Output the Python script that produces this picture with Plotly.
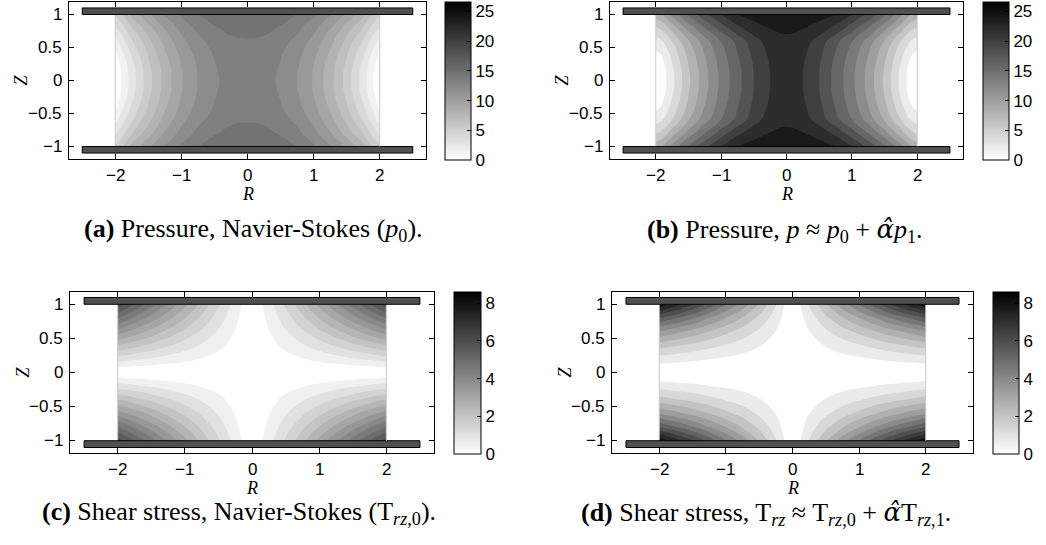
import plotly.graph_objects as go

# ---------------- data (quarter domain r>=0, z>=0; mirrored for display) ----
R_QUAD = [0.0, 0.25, 0.5, 0.75, 1.0, 1.25, 1.5, 1.75, 1.9, 2.0]
Z_QUAD = [0.0, 0.2, 0.4, 0.6, 0.8, 1.0]

# (a) pressure, Navier-Stokes p0  (rows: z, cols: r)
P_NS = [
    [14.0, 13.8, 13.1, 12.0, 10.5, 8.5, 6.1, 3.3, 1.4, 0.0],
    [14.1, 13.9, 13.2, 12.1, 10.6, 8.6, 6.3, 3.5, 1.65, 0.25],
    [14.2, 14.0, 13.4, 12.4, 11.0, 9.1, 6.8, 4.2, 2.3, 1.0],
    [14.5, 14.4, 13.9, 12.9, 11.6, 9.8, 7.6, 5.2, 3.4, 2.2],
    [15.2, 15.0, 14.5, 13.7, 12.4, 10.8, 8.8, 6.6, 4.8, 3.8],
    [16.0, 15.8, 15.3, 14.6, 13.5, 12.1, 10.4, 8.4, 6.4, 5.5],
]
# (b) pressure p ~ p0 + alpha p1
P_FULL = [
    [22.6, 22.0, 20.0, 17.3, 14.5, 11.3, 7.6, 3.4, 1.0, 0.0],
    [22.7, 22.1, 20.1, 17.4, 14.7, 11.5, 7.9, 3.7, 1.3, 0.4],
    [23.0, 22.4, 20.5, 17.9, 15.2, 12.1, 8.6, 4.6, 2.3, 1.4],
    [23.6, 23.0, 21.2, 18.7, 16.1, 13.2, 9.9, 6.1, 4.0, 3.2],
    [24.4, 24.1, 23.2, 21.5, 19.0, 16.0, 12.8, 9.0, 6.6, 5.8],
    [25.4, 25.2, 24.8, 24.0, 22.0, 19.5, 16.5, 12.5, 10.0, 9.0],
]
# (c) shear stress, Navier-Stokes |T_rz,0|
T_NS = [
    [0.0, 0.0, 0.0, 0.0, 0.0, 0.0, 0.0, 0.0, 0.0, 0.0],
    [0.0, 0.16, 0.32, 0.47, 0.63, 0.79, 0.95, 1.10, 1.20, 1.26],
    [0.0, 0.32, 0.63, 0.95, 1.26, 1.58, 1.89, 2.21, 2.39, 2.52],
    [0.0, 0.47, 0.95, 1.42, 1.89, 2.36, 2.84, 3.31, 3.59, 3.78],
    [0.0, 0.63, 1.26, 1.89, 2.52, 3.15, 3.78, 4.41, 4.79, 5.04],
    [0.0, 0.79, 1.58, 2.36, 3.15, 3.94, 4.73, 5.51, 5.99, 6.30],
]
# (d) shear stress |T_rz| ~ T_rz,0 + alpha T_rz,1
T_FULL = [
    [0.0, 0.0, 0.0, 0.0, 0.0, 0.0, 0.0, 0.0, 0.0, 0.0],
    [0.0, 0.17, 0.31, 0.44, 0.56, 0.68, 0.80, 0.91, 0.97, 1.02],
    [0.0, 0.38, 0.70, 1.00, 1.27, 1.54, 1.81, 2.05, 2.19, 2.30],
    [0.0, 0.64, 1.20, 1.70, 2.16, 2.62, 3.08, 3.50, 3.73, 3.91],
    [0.0, 0.98, 1.82, 2.59, 3.29, 3.99, 4.69, 5.32, 5.67, 5.95],
    [0.0, 1.40, 2.60, 3.70, 4.70, 5.70, 6.70, 7.60, 8.10, 8.50],
]

# contour level steps and colour limits
LEVELS = {"a": (1.33, 16.0), "b": (2.0, 26.0), "c": (0.5, 6.0), "d": (0.66, 7.92)}
CMAX = {"a": 26.6, "b": 26.6, "c": 8.6, "d": 8.6}
CBAR_TICKS = {"a": [0, 5, 10, 15, 20, 25], "b": [0, 5, 10, 15, 20, 25],
              "c": [0, 2, 4, 6, 8], "d": [0, 2, 4, 6, 8]}
X_TICKS = [-2, -1, 0, 1, 2]
Y_TICKS = [-1, -0.5, 0, 0.5, 1]

FLUID_R = 2.0
PLATE_R = 2.5
GAP = 1.0
PLATE_T = 0.1

HAT_ALPHA = "<span style=\"font-family:'DejaVu Serif'\"><i>α̂</i></span>"
CAPTIONS = {
    "a": "<b>(a)</b> Pressure, Navier-Stokes (<i>p</i><sub>0</sub>).",
    "b": "<b>(b)</b> Pressure, <i>p</i> ≈ <i>p</i><sub>0</sub> + " + HAT_ALPHA + "<i>p</i><sub>1</sub>.",
    "c": "<b>(c)</b> Shear stress, Navier-Stokes (T<sub><i>rz</i>,0</sub>).",
    "d": "<b>(d)</b> Shear stress, T<sub><i>rz</i></sub> ≈ T<sub><i>rz</i>,0</sub> + " + HAT_ALPHA + "T<sub><i>rz</i>,1</sub>.",
}

# ---------------- layout geometry (pixels) ----------------------------------
W, H = 1046, 545
PANELS = {
    "a": dict(box=(69, 426, 2, 159), cb=(445, 2, 160, 26), xr=2.7, yr=1.19, cap=(253, 230)),
    "b": dict(box=(610, 963, 2, 159), cb=(983, 2, 160, 26), xr=2.7, yr=1.19, cap=(785, 230)),
    "c": dict(box=(70, 434, 292, 453), cb=(454, 292, 454, 27), xr=2.71, yr=1.18, cap=(239, 513)),
    "d": dict(box=(612, 973, 292, 453), cb=(993, 292, 454, 26), xr=2.71, yr=1.18, cap=(766, 513)),
}
DATA = {"a": P_NS, "b": P_FULL, "c": T_NS, "d": T_FULL}


def mirror(quad):
    rs = [-r for r in R_QUAD[:0:-1]] + R_QUAD
    zs = [-z for z in Z_QUAD[:0:-1]] + Z_QUAD
    order = list(range(len(Z_QUAD) - 1, 0, -1)) + list(range(len(Z_QUAD)))
    rows = []
    for zi in order:
        rq = quad[zi]
        rows.append(rq[:0:-1] + rq)
    return rs, zs, rows


def gray(v):
    g = int(round(255 * max(0.0, min(1.0, v))))
    return f"rgb({g},{g},{g})"


def fmt(v):
    return f"{v:g}".replace("-", "\u2212")


fig = go.Figure()
shapes = []
annotations = []
SERIF = "Liberation Serif"
SANS = "Liberation Sans"
TICK_SIZE = 17
tick_font = dict(family=SANS, size=TICK_SIZE, color="black")

for idx, key in enumerate(["a", "b", "c", "d"]):
    p = PANELS[key]
    sfx = "" if idx == 0 else str(idx + 1)
    xa, ya = "x" + sfx, "y" + sfx
    step, end = LEVELS[key]
    cmax = CMAX[key]
    rs, zs, rows = mirror(DATA[key])
    fig.add_trace(go.Contour(
        x=rs, y=zs, z=rows, xaxis=xa, yaxis=ya,
        autocontour=False,
        contours=dict(start=step, end=end, size=step, coloring="fill", showlines=False),
        line=dict(width=0, smoothing=1.3),
        colorscale=[[0, "rgb(255,255,255)"], [1, gray(1 - end / cmax)]],
        showscale=False, hoverinfo="skip",
    ))
    l, t, b, th = p["cb"]
    fig.add_trace(go.Scatter(
        x=[None], y=[None], xaxis=xa, yaxis=ya, mode="markers", showlegend=False,
        hoverinfo="skip",
        marker=dict(color=[0], cmin=0, cmax=cmax, showscale=True,
                    colorscale=[[0, "rgb(255,255,255)"], [1, "rgb(0,0,0)"]],
                    colorbar=dict(x=l / W, xanchor="left", xpad=0, ypad=0,
                                  y=1 - t / H, yanchor="top", len=b - t, lenmode="pixels",
                                  thickness=th, thicknessmode="pixels",
                                  outlinewidth=1, outlinecolor="black",
                                  tickvals=CBAR_TICKS[key], ticks="inside", ticklen=4,
                                  tickcolor="black", tickfont=tick_font)),
    ))
    bl, br, bt, bb = p["box"]
    axis_common = dict(showgrid=False, zeroline=False, showline=True, linecolor="black",
                       linewidth=1, mirror="ticks", ticks="inside", ticklen=5,
                       tickcolor="black", tickwidth=1, showticklabels=False)
    fig.layout["xaxis" + sfx] = dict(domain=[bl / W, br / W], range=[-p["xr"], p["xr"]],
                                     anchor=ya, tickvals=X_TICKS, **axis_common)
    fig.layout["yaxis" + sfx] = dict(domain=[1 - bb / H, 1 - bt / H], range=[-p["yr"], p["yr"]],
                                     anchor=xa, tickvals=Y_TICKS, **axis_common)
    # tick labels placed through the axes' own scales
    for v in X_TICKS:
        annotations.append(dict(text=fmt(v), xref=xa, yref="paper", x=v,
                                y=1 - (bb + 16) / H, xanchor="center", yanchor="middle",
                                showarrow=False, font=tick_font))
    for v in Y_TICKS:
        annotations.append(dict(text=fmt(v), xref="paper", yref=ya, x=(bl - 5) / W,
                                y=v, xanchor="right", yanchor="middle",
                                showarrow=False, font=tick_font))
    for sgn in (-1, 1):
        shapes.append(dict(type="line", xref=xa, yref=ya, x0=sgn * FLUID_R, x1=sgn * FLUID_R,
                           y0=-GAP, y1=GAP, line=dict(color="rgb(200,200,200)", width=1)))
        shapes.append(dict(type="rect", xref=xa, yref=ya, x0=-PLATE_R, x1=PLATE_R,
                           y0=sgn * GAP, y1=sgn * (GAP + PLATE_T),
                           fillcolor="rgb(80,80,80)", line=dict(color="black", width=1)))
    cx = (bl + br) / 2
    annotations.append(dict(text="<i>R</i>", xref="paper", yref="paper", x=cx / W,
                            y=1 - (bb + 35) / H, xanchor="center", yanchor="middle",
                            showarrow=False, font=dict(family=SERIF, size=18, color="black")))
    annotations.append(dict(text="<i>Z</i>", xref="paper", yref="paper", x=(bl - 48) / W,
                            y=1 - (bt + bb) / 2 / H, xanchor="center", yanchor="middle",
                            textangle=-90, showarrow=False,
                            font=dict(family=SERIF, size=18, color="black")))
    capx, capy = p["cap"]
    annotations.append(dict(text=CAPTIONS[key], xref="paper", yref="paper", x=capx / W,
                            y=1 - capy / H, xanchor="center", yanchor="middle",
                            showarrow=False, font=dict(family=SERIF, size=26, color="black")))

fig.update_layout(width=W, height=H, autosize=False, margin=dict(l=0, r=0, t=0, b=0),
                  paper_bgcolor="white", plot_bgcolor="white", showlegend=False,
                  shapes=shapes, annotations=annotations)
fig.write_html("out.html")
